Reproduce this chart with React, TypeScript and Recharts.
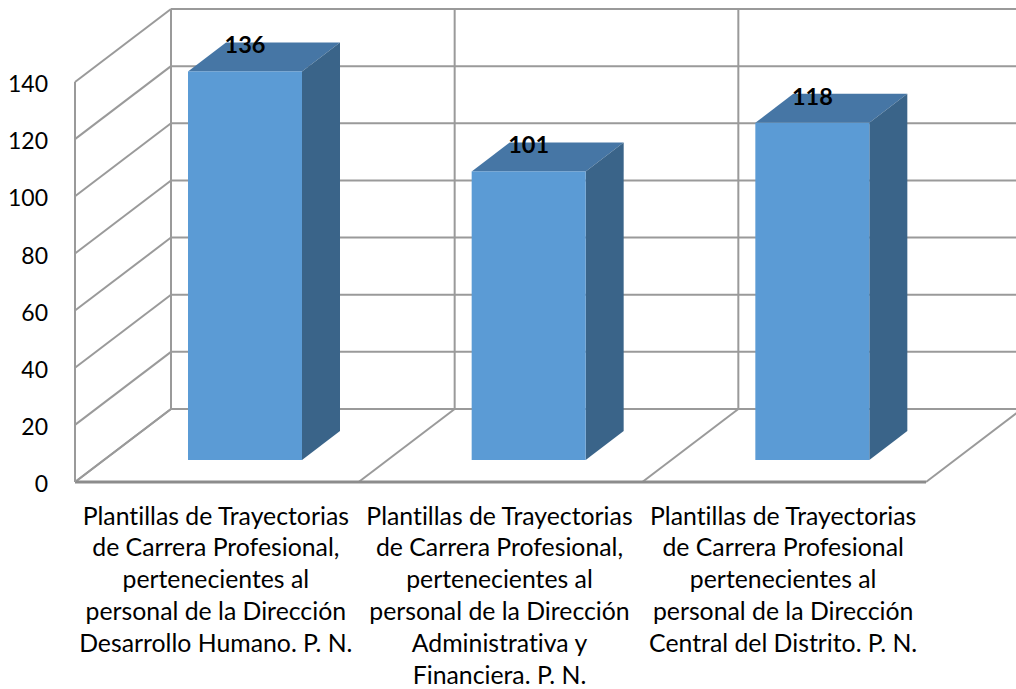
import { BarChart, Bar, XAxis, YAxis, LabelList, usePlotArea } from 'recharts';

const categories = [
  'Plantillas de Trayectorias\nde Carrera Profesional,\npertenecientes al\npersonal de la Dirección\nDesarrollo Humano. P. N.',
  'Plantillas de Trayectorias\nde Carrera Profesional,\npertenecientes al\npersonal de la Dirección\nAdministrativa y\nFinanciera. P. N.',
  'Plantillas de Trayectorias\nde Carrera Profesional\npertenecientes al\npersonal de la Dirección\nCentral del Distrito. P. N.',
];
const values = [136, 101, 118];
const yTicks = [0, 20, 40, 60, 80, 100, 120, 140];
const yMax = 140;

const chartData = categories.map((name, i) => ({ name, value: values[i] }));

const FONT = 'Lato, sans-serif';
const GRID = '#9a9a9a';
// depth of the fake 3D box
const WALL_DX = 96;
const WALL_DY = -73;
const BAR_DX = 28;
const BAR_DY = -22;
const DEPTH_DX = 38;
const DEPTH_DY = -29;

function Walls() {
  const plot = usePlotArea();
  if (!plot) return null;
  const left = plot.x;
  const bottom = plot.y + plot.height;
  const right = plot.x + plot.width;
  const step = plot.width / categories.length;
  const yOf = (v: number) => bottom - (v / yMax) * plot.height;
  const bounds = Array.from({ length: categories.length + 1 }, (_, i) => left + i * step);
  return (
    <g stroke={GRID} strokeWidth={2} fill="none">
      {yTicks.map((t) => (
        <g key={t}>
          <line x1={left} y1={yOf(t)} x2={left + WALL_DX} y2={yOf(t) + WALL_DY} />
          <line x1={left + WALL_DX} y1={yOf(t) + WALL_DY} x2={right + WALL_DX} y2={yOf(t) + WALL_DY} />
        </g>
      ))}
      {bounds.map((b) => (
        <g key={b}>
          <line x1={b} y1={bottom} x2={b + WALL_DX} y2={bottom + WALL_DY} />
          <line x1={b + WALL_DX} y1={bottom + WALL_DY} x2={b + WALL_DX} y2={plot.y + WALL_DY} />
        </g>
      ))}
    </g>
  );
}

function Box3D(props: any) {
  const { x, y, width, height } = props;
  const fx = x + BAR_DX;
  const fy = y + BAR_DY;
  const r = fx + width;
  const b = fy + height;
  return (
    <g>
      <polygon
        points={`${fx},${fy} ${r},${fy} ${r + DEPTH_DX},${fy + DEPTH_DY} ${fx + DEPTH_DX},${fy + DEPTH_DY}`}
        fill="#4676A5"
      />
      <polygon
        points={`${r},${fy} ${r + DEPTH_DX},${fy + DEPTH_DY} ${r + DEPTH_DX},${b + DEPTH_DY} ${r},${b}`}
        fill="#3A6489"
      />
      <rect x={fx} y={fy} width={width} height={height} fill="#5B9BD5" />
    </g>
  );
}

function BarValue(props: any) {
  const { x, y, width, value } = props;
  return (
    <text
      x={x + width / 2 + BAR_DX}
      y={y + BAR_DY - 27}
      textAnchor="middle"
      dominantBaseline="central"
      fontFamily={FONT}
      fontSize={23.5}
      fontWeight={700}
      fill="#000"
    >
      {value}
    </text>
  );
}

function CategoryTick(props: any) {
  const { x, y, payload } = props;
  const lines = String(payload.value).split('\n');
  return (
    <text
      x={x - 1}
      y={y}
      textAnchor="middle"
      fontFamily={FONT}
      fontSize={24.8}
      fill="#000"
      style={{ fontVariantLigatures: 'none' }}
    >
      {lines.map((line, i) => (
        <tspan key={i} x={x - 1} dy={i === 0 ? 34.5 : 31.9}>
          {line}
        </tspan>
      ))}
    </text>
  );
}

export default function App() {
  return (
    <div style={{ position: 'absolute', left: 0, top: 0, background: '#fff' }}>
      <BarChart
        width={1016}
        height={689}
        data={chartData}
        margin={{ top: 82, right: 90, bottom: 0, left: 0 }}
      >
        <Walls />
        <XAxis
          dataKey="name"
          interval={0}
          tickLine={false}
          axisLine={{ stroke: '#8c8c8c', strokeWidth: 3 }}
          tick={<CategoryTick />}
          height={207}
        />
        <YAxis
          width={75}
          domain={[0, yMax]}
          ticks={yTicks}
          interval={0}
          tickLine={false}
          axisLine={{ stroke: GRID, strokeWidth: 2 }}
          tickMargin={21}
          dy={2}
          tick={{ fontFamily: FONT, fontSize: 23, fill: '#000' }}
        />
        <Bar dataKey="value" barSize={114} shape={<Box3D />} isAnimationActive={false}>
          <LabelList dataKey="value" content={<BarValue />} />
        </Bar>
      </BarChart>
    </div>
  );
}
